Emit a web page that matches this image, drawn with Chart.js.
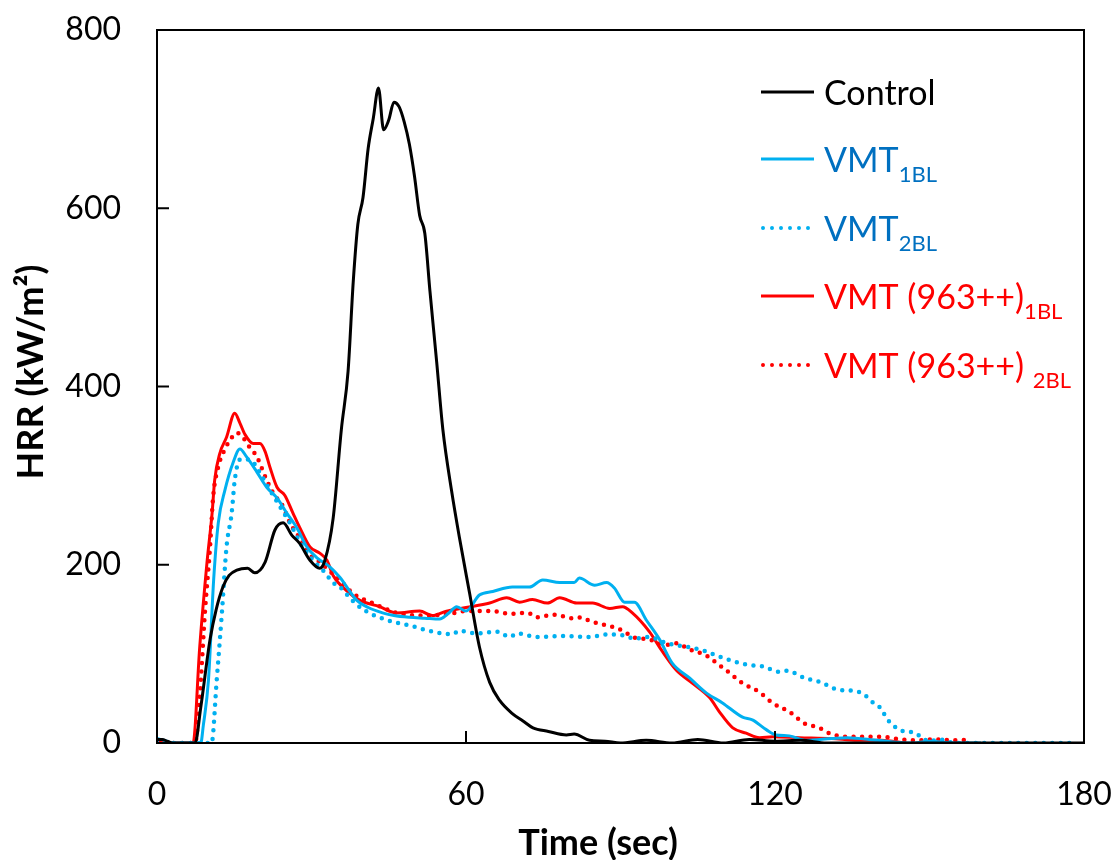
<!DOCTYPE html>
<html>
<head>
<meta charset="utf-8">
<script src="https://cdn.jsdelivr.net/npm/chart.js@4.4.1/dist/chart.umd.min.js"></script>
<style>
  body { margin: 0; background: #fff; }
  #wrap { width: 1116px; height: 860px; }
</style>
</head>
<body>
<div id="wrap"><canvas id="hrrChart"></canvas></div>
<script>
// time (sec) and HRR (kW/m2), one pair of arrays per curve
let controlT = [0, 1, 2, 3, 7.4, 8.5, 10.3, 11.5, 12.8, 14, 15.5, 17.6, 19, 21, 22.9, 24.5, 26.2, 27.7, 29.7, 31.6, 32.6, 34.2, 35.8, 37.1, 38.1, 39, 40, 41, 42, 43, 44, 45, 46, 47, 48, 49, 50, 51, 52, 53, 54.3, 55.5, 57.2, 58.8, 60.7, 62.6, 64.6, 66.5, 69, 71, 73, 76, 79.5, 81, 84, 87, 90, 95, 100, 105, 110, 115, 120, 125, 130, 140, 150, 160, 170, 180];
let controlHrr = [4, 4, 2, 0, 0, 40, 116, 150, 175, 188, 194, 196, 191, 203, 239, 247, 233, 224, 205, 196, 205, 252, 352, 417, 517, 582, 612, 667, 701, 735, 688, 699, 719, 714, 697, 672, 636, 592, 572, 507, 428, 352, 283, 228, 168, 108, 68, 48, 33, 25, 17, 13, 9, 10, 3, 2, 0, 3, 0, 4, 0, 4, 2, 3, 0, 0, 0, 0, 0, 0];

let vmt1T = [0, 1.5, 3, 8.5, 9, 10, 11, 11.9, 13.2, 14.8, 16.1, 17.4, 19.4, 21.3, 23.3, 25.2, 27.2, 29.1, 31, 33.5, 35.5, 38.8, 41, 43.8, 46, 49, 52, 54.9, 56.5, 58.2, 60, 62.6, 65.2, 69, 72.3, 74.9, 78.2, 81, 82, 85, 87.3, 88.8, 90.8, 92.7, 95, 97.6, 100, 103.4, 106.7, 109.8, 113.7, 115.6, 118.3, 120.2, 122.8, 126, 131, 134, 140, 146.5, 150, 155, 160];
let vmt1Hrr = [5, 3, 0, 0, 20, 71, 183, 247, 284, 315, 330, 321, 304, 287, 275, 258, 241, 220, 208, 198, 186, 160, 152, 146, 143, 141, 140, 139, 145, 153, 148, 166, 170, 175, 175, 183, 180, 180, 185, 177, 180, 174, 158, 158, 138, 116, 90, 73, 56, 45, 29, 26, 15, 9, 8, 3, 5, 6, 3, 0, 2, 0, 0];

let vmt2T = [0, 2, 10.6, 11.6, 12.6, 13.5, 14.5, 15.1, 16.1, 18, 20, 21.9, 23.9, 25.8, 28.3, 30.6, 32.2, 34.2, 36.1, 37.4, 40, 44.6, 49, 53.5, 57.4, 58.7, 62, 66, 68.5, 70, 73.7, 78.8, 84, 87.9, 91.1, 92.7, 95.6, 98.9, 102.8, 106, 109.2, 114.4, 117.6, 120.8, 122.4, 125.7, 129, 132.1, 135.8, 137.4, 138.9, 140.2, 142.2, 145.1, 147, 148.3, 149.9, 152, 155, 160, 178];
let vmt2Hrr = [3, 0, 0, 71, 146, 220, 258, 295, 318, 318, 303, 284, 265, 247, 220, 203, 194, 180, 172, 163, 150, 138, 132, 125, 122, 126, 123, 125, 119, 123, 119, 120, 119, 122, 120, 117, 119, 112, 108, 104, 97, 88, 86, 80, 81, 73, 68, 60, 58, 54, 46, 41, 24, 13, 12, 7, 2, 4, 0, 0, 0];

let vmt963_1T = [0, 2, 7, 8.3, 9.7, 10.7, 11.2, 12.2, 13.5, 15.1, 16.1, 17.1, 18.7, 20, 21, 21.9, 23.3, 24.8, 26.4, 27.7, 29.7, 31.6, 33, 34.2, 36.8, 39.4, 43.2, 46.5, 51, 53.5, 56.2, 60, 64.6, 67.9, 70.4, 72.9, 75.8, 78.2, 81.5, 84.6, 87.9, 90.4, 92.3, 95.6, 98.1, 100.8, 104, 107.3, 109.2, 111.8, 114.4, 117, 119.6, 124.7, 131, 136, 140.6, 145.5];
let vmt963_1Hrr = [2, 0, 0, 108, 202, 258, 295, 325, 343, 370, 359, 346, 336, 336, 327, 310, 287, 278, 258, 242, 220, 213, 205, 188, 171, 160, 153, 146, 148, 143, 148, 152, 157, 163, 158, 161, 157, 163, 157, 157, 151, 153, 146, 125, 103, 82, 67, 51, 35, 17, 11, 6, 7, 6, 5, 3, 3, 0];

let vmt963_2T = [0, 1.5, 7.4, 8.3, 9.3, 10.3, 10.9, 11.9, 12.8, 14.2, 15.5, 16.7, 17.7, 19.4, 21, 22.5, 24.5, 25.8, 27.7, 29.7, 31.6, 33.9, 35.8, 38, 41.9, 47.1, 51.6, 56.8, 60.1, 65.2, 68.5, 72, 73.7, 77.2, 80.7, 82.3, 84, 87.3, 89.2, 90.8, 92.3, 95.6, 98.9, 100.8, 103.4, 106.7, 108.6, 111.1, 113.7, 117, 119.5, 122.8, 125.7, 128.6, 130.5, 133.7, 136.9, 140.6, 144.5, 147.7, 150.9, 154.7, 158.3];
let vmt963_2Hrr = [2, 0, 0, 52, 146, 220, 276, 310, 325, 340, 348, 343, 334, 321, 299, 281, 265, 247, 230, 211, 203, 191, 181, 168, 157, 145, 143, 145, 148, 148, 145, 146, 141, 144, 140, 141, 137, 132, 129, 125, 119, 116, 110, 112, 105, 98, 90, 79, 67, 57, 45, 35, 22, 17, 11, 7, 7, 7, 4, 3, 4, 3, 4];

let xTicks = [0, 60, 120, 180];
let yTicks = [0, 200, 400, 600, 800];
let xTitle = "Time (sec)";
let yTitle = "HRR (kW/m²)";

let cyan = "#00B0F0";
let red = "#FF0000";

function toPoints(t, v) {
  return t.map((x, i) => ({ x: x, y: v[i] }));
}

function solid(label, t, v, color) {
  return {
    label: label,
    data: toPoints(t, v),
    borderColor: color,
    borderWidth: 3,
    pointRadius: 0,
    cubicInterpolationMode: "monotone",
    fill: false
  };
}

function dotted(label, t, v, color) {
  let ds = solid(label, t, v, color);
  ds.borderWidth = 4.5;
  ds.borderDash = [0, 8.5];
  ds.borderCapStyle = "round";
  return ds;
}

// legend rows: [line y, text parts, text colour, line colour, dotted?]
let legendRows = [
  [92, [["Control", false]], "#000", "#000", false],
  [159, [["VMT", false], ["1BL", true]], "#0070C0", cyan, false],
  [228, [["VMT", false], ["2BL", true]], "#0070C0", cyan, true],
  [296, [["VMT (963++)", false], ["1BL", true]], red, red, false],
  [365, [["VMT (963++) ", false], ["2BL", true]], red, red, true]
];

// box round the plot, inward tick marks and the two axis titles
const frame = {
  id: "frame",
  afterDatasetsDraw(chart) {
    let ctx = chart.ctx;
    let a = chart.chartArea;
    let xs = chart.scales.x;
    let ys = chart.scales.y;
    ctx.save();
    ctx.strokeStyle = "#000";
    ctx.lineWidth = 2;
    ctx.strokeRect(a.left, a.top, a.right - a.left, a.bottom - a.top);
    ctx.beginPath();
    yTicks.forEach(v => {
      let p = ys.getPixelForValue(v);
      ctx.moveTo(a.left, p);
      ctx.lineTo(a.left + 12, p);
    });
    xTicks.forEach(v => {
      let p = xs.getPixelForValue(v);
      ctx.moveTo(p, a.bottom);
      ctx.lineTo(p, a.bottom - 12);
    });
    ctx.stroke();

    ctx.fillStyle = "#000";
    ctx.font = "bold 36px Lato";
    ctx.textAlign = "center";
    ctx.textBaseline = "alphabetic";
    ctx.fillText(xTitle, 598, 855);
    ctx.translate(43, 372);
    ctx.rotate(-Math.PI / 2);
    ctx.fillText(yTitle, 0, 0);
    ctx.restore();
  }
};

const subLegend = {
  id: "subLegend",
  afterDraw(chart) {
    let ctx = chart.ctx;
    ctx.save();
    legendRows.forEach(row => {
      let y = row[0];
      ctx.beginPath();
      ctx.strokeStyle = row[3];
      if (row[4]) {
        ctx.lineWidth = 4;
        ctx.lineCap = "round";
        ctx.setLineDash([0, 9]);
        ctx.moveTo(763, y);
        ctx.lineTo(812, y);
      } else {
        ctx.lineWidth = 3;
        ctx.lineCap = "butt";
        ctx.setLineDash([]);
        ctx.moveTo(761, y);
        ctx.lineTo(814, y);
      }
      ctx.stroke();
      ctx.setLineDash([]);
      ctx.fillStyle = row[2];
      ctx.textBaseline = "alphabetic";
      let x = 824;
      row[1].forEach(part => {
        if (part[1]) {
          ctx.font = "22px Lato";
          ctx.fillText(part[0], x, y + 23);
        } else {
          ctx.font = "34px Lato";
          ctx.fillText(part[0], x, y + 13);
        }
        x += ctx.measureText(part[0]).width;
      });
    });
    ctx.restore();
  }
};

let hrrChart = new Chart(document.getElementById("hrrChart"), {
  type: "line",
  data: {
    datasets: [
      solid("Control", controlT, controlHrr, "#000"),
      solid("VMT1BL", vmt1T, vmt1Hrr, cyan),
      dotted("VMT2BL", vmt2T, vmt2Hrr, cyan),
      solid("VMT (963++)1BL", vmt963_1T, vmt963_1Hrr, red),
      dotted("VMT (963++) 2BL", vmt963_2T, vmt963_2Hrr, red)
    ]
  },
  options: {
    responsive: true,
    maintainAspectRatio: false,
    animation: false,
    layout: { padding: { top: 30, right: 32, left: 0, bottom: 0 } },
    plugins: {
      legend: { display: false },
      tooltip: { enabled: false }
    },
    scales: {
      x: {
        type: "linear",
        min: 0,
        max: 180,
        afterBuildTicks: s => { s.ticks = xTicks.map(v => ({ value: v })); },
        grid: { display: false, drawTicks: false },
        border: { display: false },
        ticks: { color: "#000", padding: 32, font: { family: "Lato", size: 32 } },
        afterFit: s => {
          s.height = 117;
          s.paddingLeft = 0;
          s.paddingRight = 0;
        }
      },
      y: {
        min: 0,
        max: 800,
        afterBuildTicks: s => { s.ticks = yTicks.map(v => ({ value: v })); },
        grid: { display: false, drawTicks: false },
        border: { display: false },
        ticks: { color: "#000", padding: 36, font: { family: "Lato", size: 32 } },
        afterFit: s => {
          s.width = 157;
          s.paddingTop = 0;
          s.paddingBottom = 0;
        }
      }
    }
  },
  plugins: [frame, subLegend]
});
</script>
</body>
</html>
